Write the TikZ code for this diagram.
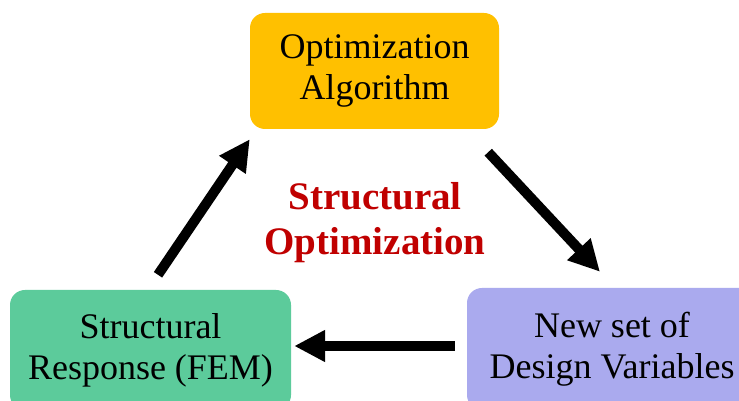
\documentclass[tikz,border=0pt]{standalone}
\usepackage{fontspec}
\setmainfont{Liberation Serif}
\usepackage{tikz}
\usetikzlibrary{
  arrows.meta,
  positioning,
  calc
}
\definecolor{soOpt}{HTML}{FFC000}
\definecolor{soFEM}{HTML}{5CCB9B}
\definecolor{soVar}{HTML}{AAAAEE}
\definecolor{soTitle}{HTML}{C00000}
\tikzset{
  sonode/.style={
    rounded corners=15pt, align=center, inner sep=0pt,
    font=\fontsize{36}{41}\selectfont
  },
  optbox/.style={sonode, fill=soOpt, minimum width=249pt, minimum height=116pt},
  fembox/.style={sonode, fill=soFEM, minimum width=281pt, minimum height=120pt},
  varbox/.style={sonode, fill=soVar, minimum width=290pt, minimum height=122pt},
  title/.style={align=center, text=soTitle, font=\fontsize{39}{45}\selectfont\bfseries},
  loop/.style={-{Triangle[length=31pt, width=30pt]}, line width=10pt, black}
}

\begin{document}
\begin{tikzpicture}[x=1pt, y=1pt]
  \clip (0,0) rectangle (739,401);
  \fill[white] (0,0) rectangle (739,401);
  \node[optbox] (opt) at (374.5,330) {Optimization\\Algorithm};
  \node[fembox] (fem) at (150.5,51) {Structural\\Response (FEM)};
  \node[varbox] (dv) at (612,52) {New set of\\Design Variables};
  \node[title] (so) at (375,178) {Structural\\Optimization};
  \draw[loop] ([shift={(7.5,15)}]fem.north) -- ([shift={(0,-10)}]opt.south west);
  \draw[loop] ([shift={(-11,-23)}]opt.south east) -- ([shift={(-12,16)}]dv.north);
  \draw[loop] ([shift={(-12,3)}]dv.west) -- ([shift={(3,4)}]fem.east);
\end{tikzpicture}
\end{document}
